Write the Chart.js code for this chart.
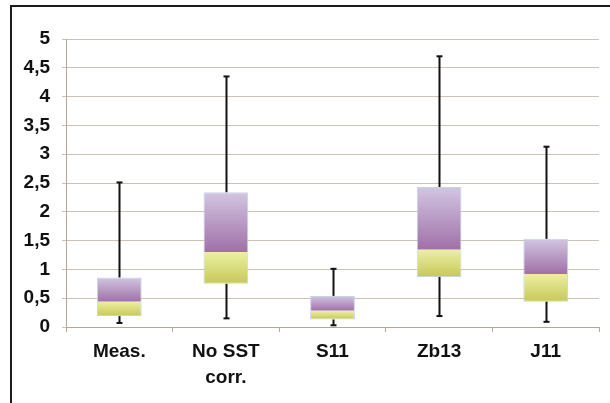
<!DOCTYPE html>
<html>
<head>
<meta charset="utf-8">
<script src="https://cdn.jsdelivr.net/npm/chart.js@4.4.1/dist/chart.umd.min.js"></script>
<style>
  html, body { margin: 0; padding: 0; background: #ffffff; }
  #wrap { width: 610px; height: 403px; position: relative; }
</style>
</head>
<body>
<div id="wrap"><canvas id="c" width="610" height="403"></canvas></div>
<script>
// Box-plot statistics per category
const categories = [['Meas.'], ['No SST', 'corr.'], ['S11'], ['Zb13'], ['J11']];
const whiskerLow  = [0.07, 0.15, 0.03, 0.19, 0.09];
const quartile1   = [0.19, 0.75, 0.13, 0.87, 0.44];
const medians     = [0.44, 1.30, 0.28, 1.34, 0.92];
const quartile3   = [0.86, 2.34, 0.54, 2.43, 1.53];
const whiskerHigh = [2.51, 4.35, 1.01, 4.70, 3.13];
const yTickLabels = ['0', '0,5', '1', '1,5', '2', '2,5', '3', '3,5', '4', '4,5', '5'];

const lowerBox = quartile1.map((q, i) => [q, medians[i]]);
const upperBox = medians.map((m, i) => [m, quartile3[i]]);

// Vertical gradient spanning each floating bar
function boxFill(topColor, bottomColor) {
  return function (ctx) {
    const chart = ctx.chart;
    const y = chart.scales && chart.scales.y;
    if (!chart.chartArea || !y || !Array.isArray(ctx.raw)) return topColor;
    const yTop = y.getPixelForValue(ctx.raw[1]);
    const yBot = y.getPixelForValue(ctx.raw[0]);
    if (!isFinite(yTop) || !isFinite(yBot)) return topColor;
    const g = chart.ctx.createLinearGradient(0, yTop, 0, yBot);
    g.addColorStop(0, topColor);
    g.addColorStop(1, bottomColor);
    return g;
  };
}

// Outer frame lines
const framePlugin = {
  id: 'frame',
  beforeDraw(chart) {
    const c = chart.ctx;
    c.save();
    c.fillStyle = '#ffffff';
    c.fillRect(0, 0, chart.width, chart.height);
    c.strokeStyle = '#1c1c1c';
    c.lineWidth = 2;
    c.beginPath();
    c.moveTo(11, chart.height);
    c.lineTo(11, 6);
    c.lineTo(chart.width, 6);
    c.stroke();
    c.restore();
  }
};

// Whiskers from the quartiles out to the extremes, with small caps
const whiskerPlugin = {
  id: 'whiskers',
  afterDatasetsDraw(chart) {
    const c = chart.ctx;
    const x = chart.scales.x, y = chart.scales.y;
    c.save();
    c.strokeStyle = '#111111';
    c.lineWidth = 2;
    categories.forEach((_, i) => {
      const cx = Math.round(x.getPixelForValue(i)) + 0.5;
      const seg = (a, b) => {
        c.beginPath();
        c.moveTo(cx, y.getPixelForValue(a));
        c.lineTo(cx, y.getPixelForValue(b));
        c.stroke();
      };
      seg(quartile3[i], whiskerHigh[i]);
      seg(whiskerLow[i], quartile1[i]);
      [whiskerHigh[i], whiskerLow[i]].forEach(v => {
        const py = y.getPixelForValue(v);
        c.beginPath();
        c.moveTo(cx - 3, py);
        c.lineTo(cx + 3, py);
        c.stroke();
      });
    });
    c.restore();
  }
};

const gridColor = '#cdc0b4';
const axisColor = '#b9a594';
const labelFont = { family: '"Liberation Sans", Arial, sans-serif', size: 19, weight: 'bold', lineHeight: 1.35 };

new Chart(document.getElementById('c'), {
  type: 'bar',
  data: {
    labels: categories,
    datasets: [
      {
        label: 'Q1–median',
        data: lowerBox,
        backgroundColor: boxFill('#ecefa3', '#c6c957'),
        borderColor: '#c7d4e6',
        borderWidth: 1,
        borderSkipped: 'top',
        categoryPercentage: 1,
        barPercentage: 0.42
      },
      {
        label: 'median–Q3',
        data: upperBox,
        backgroundColor: boxFill('#d2c6e1', '#a070a8'),
        borderColor: '#c7d4e6',
        borderWidth: 1,
        borderSkipped: 'bottom',
        categoryPercentage: 1,
        barPercentage: 0.42
      }
    ]
  },
  options: {
    responsive: false,
    animation: false,
    devicePixelRatio: 1,
    layout: { padding: { left: 0, top: 39, right: 11, bottom: 0 } },
    plugins: {
      legend: { display: false },
      title: { display: false },
      tooltip: { enabled: false }
    },
    scales: {
      x: {
        stacked: true,
        offset: true,
        grid: { offset: true, drawOnChartArea: false, drawTicks: true, tickLength: 5, color: axisColor },
        border: { color: axisColor, width: 1 },
        ticks: { font: labelFont, color: '#111111', padding: 7, maxRotation: 0, autoSkip: false },
        afterFit(s) { s.height = 76; }
      },
      y: {
        stacked: false,
        min: 0,
        max: 5,
        ticks: {
          stepSize: 0.5,
          font: labelFont,
          color: '#111111',
          padding: 12,
          callback: (v, i) => yTickLabels[i]
        },
        grid: { color: gridColor, tickLength: 4, drawTicks: true },
        border: { color: axisColor, width: 1 },
        afterFit(s) { s.width = 66; }
      }
    }
  },
  plugins: [framePlugin, whiskerPlugin]
});
</script>
</body>
</html>
